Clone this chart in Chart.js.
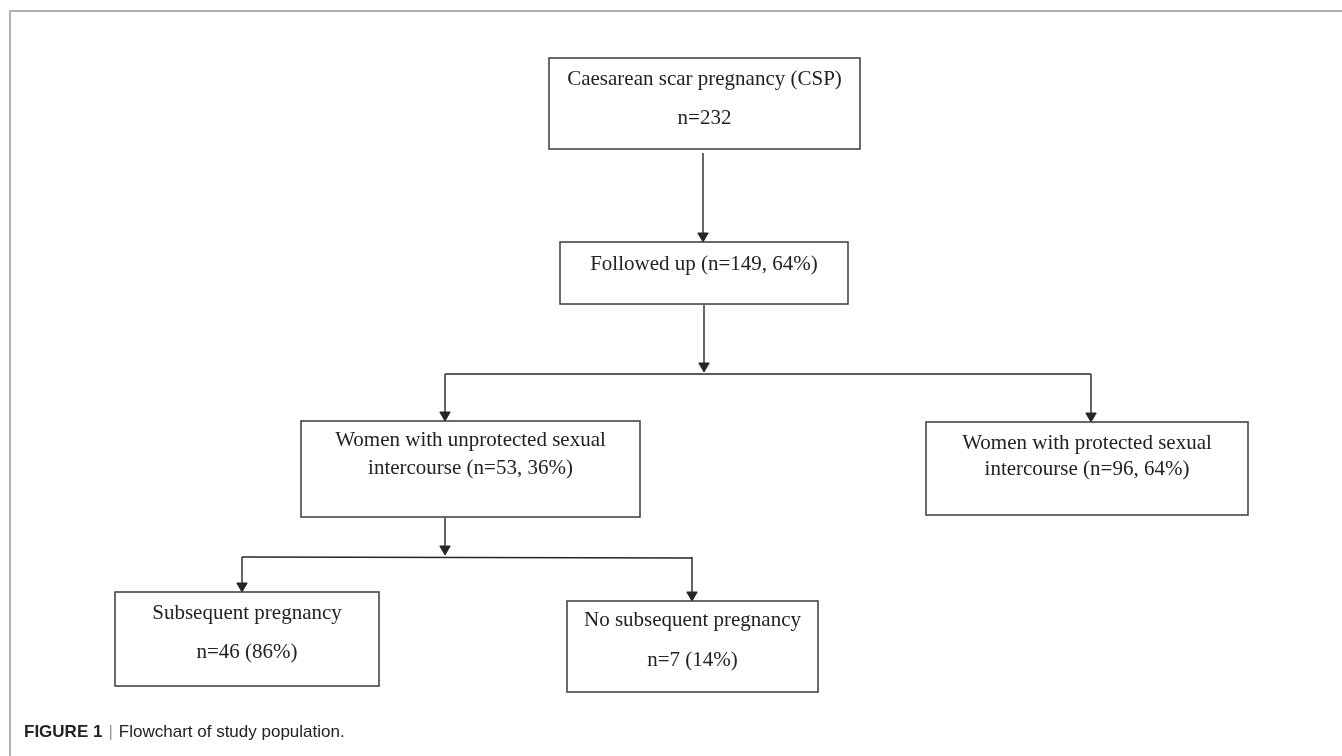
<!DOCTYPE html>
<html>
<head>
<meta charset="utf-8">
<script src="https://cdn.jsdelivr.net/npm/chart.js@4.4.1/dist/chart.umd.min.js"></script>
<style>
  html, body { margin: 0; padding: 0; background: #fff; }
  #wrap { position: relative; width: 1342px; height: 756px; overflow: hidden; }
  #frame { position: absolute; left: 9px; top: 10px; right: 0; bottom: 0;
           border-top: 2px solid #b0b0b0; border-left: 2px solid #b0b0b0; }
  #chart { position: absolute; left: 0; top: 0; width: 1342px; height: 756px; }
  #caption { position: absolute; left: 24px; top: 722px; font-family: "Liberation Sans Narrow", "Liberation Sans", Arial, sans-serif;
             font-size: 17px; color: #222; white-space: nowrap; }
  #caption b { font-weight: bold; }
  #caption .sep { color: #999; margin: 0 6px; }
</style>
</head>
<body>
<div id="wrap">
  <div id="frame"></div>
  <div id="chart"><canvas id="c"></canvas></div>
  <div id="caption"><b>FIGURE 1</b><span class="sep">|</span>Flowchart of study population.</div>
</div>
<script>
// flowchart content
const nodeNames = [
  'Caesarean scar pregnancy (CSP)',
  'Followed up',
  'Women with unprotected sexual intercourse',
  'Women with protected sexual intercourse',
  'Subsequent pregnancy',
  'No subsequent pregnancy'
];
const nodeCounts = [232, 149, 53, 96, 46, 7];
const nodePercents = [null, 64, 36, 64, 86, 14];
// parent -> children
const edges = [[0, [1]], [1, [2, 3]], [2, [4, 5]]];

// text lines shown in each box
function boxText(i) {
  const n = nodeCounts[i], p = nodePercents[i];
  switch (i) {
    case 0: return [nodeNames[0], 'n=' + n];
    case 1: return [nodeNames[1] + ' (n=' + n + ', ' + p + '%)'];
    case 2: return ['Women with unprotected sexual', 'intercourse (n=' + n + ', ' + p + '%)'];
    case 3: return ['Women with protected sexual', 'intercourse (n=' + n + ', ' + p + '%)'];
    default: return [nodeNames[i], 'n=' + n + ' (' + p + '%)'];
  }
}

// layout (in scale units, 1 unit = 1 px)
const boxes = [
  { x: 549, y: 58,  w: 311, h: 91, lines: [21, 60], ax: 703 },
  { x: 560, y: 242, w: 288, h: 62, lines: [22],     ax: 704 },
  { x: 301, y: 421, w: 339, h: 96, lines: [19, 47], ax: 445 },
  { x: 926, y: 422, w: 322, h: 93, lines: [21, 47], ax: 1091 },
  { x: 115, y: 592, w: 264, h: 94, lines: [21, 60], ax: 242 },
  { x: 567, y: 601, w: 251, h: 91, lines: [19, 59], ax: 692 }
];
const branchY = { 1: 374, 2: 557 };
const ARROW = 6;

const lineColor = '#262626';
const datasets = [];
function segment(x1, y1, x2, y2, arrow) {
  const end = arrow ? { x: x2, y: y2 - ARROW } : { x: x2, y: y2 };
  datasets.push({
    data: [{ x: x1, y: y1 }, end],
    showLine: true,
    borderColor: lineColor,
    backgroundColor: lineColor,
    borderWidth: 1.4,
    pointRadius: [0, arrow ? ARROW : 0],
    pointStyle: 'triangle',
    rotation: 180,
    pointBorderWidth: 1
  });
}

edges.forEach(([p, kids]) => {
  const pb = boxes[p];
  const bottom = pb.y + pb.h;
  if (kids.length === 1) {
    const c = boxes[kids[0]];
    segment(pb.ax, bottom + 4, pb.ax, c.y, true);
  } else {
    const by = branchY[p];
    segment(pb.ax, bottom + 1, pb.ax, by - 2, true);
    segment(boxes[kids[0]].ax, by, boxes[kids[kids.length - 1]].ax, by + (p === 2 ? 1 : 0), false);
    kids.forEach(k => segment(boxes[k].ax, by, boxes[k].ax, boxes[k].y, true));
  }
});

const boxPlugin = {
  id: 'boxes',
  afterDatasetsDraw(chart) {
    const { ctx, scales: { x, y } } = chart;
    ctx.save();
    boxes.forEach((b, i) => {
      const l = x.getPixelForValue(b.x), t = y.getPixelForValue(b.y);
      const r = x.getPixelForValue(b.x + b.w), btm = y.getPixelForValue(b.y + b.h);
      ctx.strokeStyle = '#3a3a3a';
      ctx.lineWidth = 1.5;
      ctx.strokeRect(l, t, r - l, btm - t);
      ctx.fillStyle = '#222';
      ctx.font = '21px "Liberation Serif", "Times New Roman", serif';
      ctx.textAlign = 'center';
      ctx.textBaseline = 'middle';
      boxText(i).forEach((s, j) => {
        ctx.fillText(s, (l + r) / 2, y.getPixelForValue(b.y + b.lines[j]));
      });
    });
    ctx.restore();
  }
};

new Chart(document.getElementById('c'), {
  type: 'scatter',
  data: { datasets },
  options: {
    responsive: true,
    maintainAspectRatio: false,
    animation: false,
    layout: { padding: 0, autoPadding: false },
    plugins: { legend: { display: false }, tooltip: { enabled: false } },
    scales: {
      x: { type: 'linear', min: 0, max: 1342, display: false },
      y: { type: 'linear', min: 0, max: 756, reverse: true, display: false }
    }
  },
  plugins: [boxPlugin]
});
</script>
</body>
</html>
